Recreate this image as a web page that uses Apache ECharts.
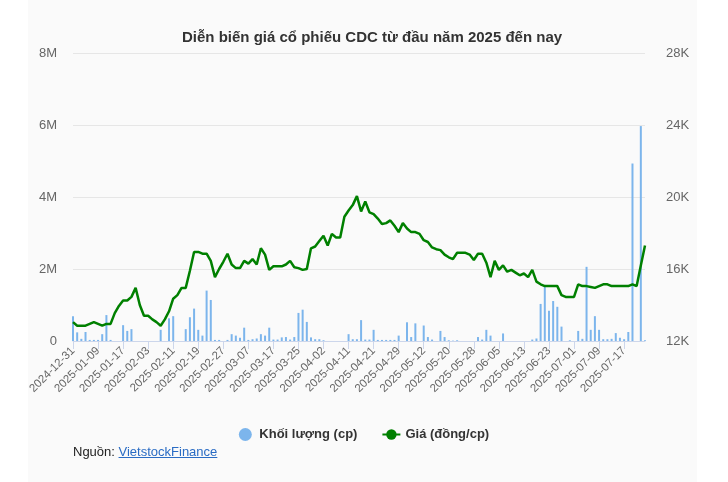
<!DOCTYPE html>
<html>
<head>
<meta charset="utf-8">
<script src="https://cdn.jsdelivr.net/npm/echarts@6/dist/echarts.min.js"></script>
<style>
  html, body { margin: 0; padding: 0; background: #ffffff; }
  #panel { position: absolute; left: 28px; top: 0; width: 669px; height: 482px; background: #fafafa; }
  #chart { position: absolute; left: 0; top: 0; width: 728px; height: 482px; }
  #source { position: absolute; left: 73px; top: 444px; font-family: "Liberation Sans", Arial, sans-serif; font-size: 13px; color: #222; }
  #source a { color: #2a6cc4; text-decoration: underline; }
</style>
</head>
<body>
<div id="panel"></div>
<div id="chart"></div>
<div id="source">Nguồn: <a href="#">VietstockFinance</a></div>
<script>
const dates = [
  "2024-12-31",
  "2025-01-02", "2025-01-03", "2025-01-06", "2025-01-07", "2025-01-08", "2025-01-09",
  "2025-01-10", "2025-01-13", "2025-01-14", "2025-01-15", "2025-01-16", "2025-01-17",
  "2025-01-20", "2025-01-21", "2025-01-22", "2025-01-23", "2025-01-24",
  "2025-02-03", "2025-02-04", "2025-02-05", "2025-02-06", "2025-02-07", "2025-02-10", "2025-02-11",
  "2025-02-12", "2025-02-13", "2025-02-14", "2025-02-17", "2025-02-18", "2025-02-19",
  "2025-02-20", "2025-02-21", "2025-02-24", "2025-02-25", "2025-02-26", "2025-02-27",
  "2025-02-28", "2025-03-03", "2025-03-04", "2025-03-05", "2025-03-06", "2025-03-07",
  "2025-03-10", "2025-03-11", "2025-03-12", "2025-03-13", "2025-03-14", "2025-03-17",
  "2025-03-18", "2025-03-19", "2025-03-20", "2025-03-21", "2025-03-24", "2025-03-25",
  "2025-03-26", "2025-03-27", "2025-03-28", "2025-03-31", "2025-04-01", "2025-04-02",
  "2025-04-03", "2025-04-04", "2025-04-08", "2025-04-09", "2025-04-10", "2025-04-11",
  "2025-04-14", "2025-04-15", "2025-04-16", "2025-04-17", "2025-04-18", "2025-04-21",
  "2025-04-22", "2025-04-23", "2025-04-24", "2025-04-25", "2025-04-28", "2025-04-29",
  "2025-05-05", "2025-05-06", "2025-05-07", "2025-05-08", "2025-05-09", "2025-05-12",
  "2025-05-13", "2025-05-14", "2025-05-15", "2025-05-16", "2025-05-19", "2025-05-20",
  "2025-05-21", "2025-05-22", "2025-05-23", "2025-05-26", "2025-05-27", "2025-05-28",
  "2025-05-29", "2025-05-30", "2025-06-02", "2025-06-03", "2025-06-04", "2025-06-05",
  "2025-06-06", "2025-06-09", "2025-06-10", "2025-06-11", "2025-06-12", "2025-06-13",
  "2025-06-16", "2025-06-17", "2025-06-18", "2025-06-19", "2025-06-20", "2025-06-23",
  "2025-06-24", "2025-06-25", "2025-06-26", "2025-06-27", "2025-06-30", "2025-07-01",
  "2025-07-02", "2025-07-03", "2025-07-04", "2025-07-07", "2025-07-08", "2025-07-09",
  "2025-07-10", "2025-07-11", "2025-07-14", "2025-07-15", "2025-07-16", "2025-07-17",
  "2025-07-18", "2025-07-21", "2025-07-22", "2025-07-23", "2025-07-24",
];

// gia dong cua (dong/cp)
const prices = [
  13050,
  12850, 12850, 12850, 12950, 13050, 12950,
  12850, 12950, 12950, 13550, 13950, 14250,
  14250, 14450, 14950, 14000, 13400,
  13400, 13200, 13050, 12850, 13200, 13650, 14350,
  14550, 14950, 14950, 15900, 16950, 16950,
  16850, 16850, 16450, 15550, 16000, 16400,
  16850, 16250, 16050, 16050, 16450, 16300,
  16550, 16250, 17150, 16800, 15950, 16150,
  16150, 16150, 16250, 16450, 16100, 16050,
  15950, 16000, 17150, 17250, 17550, 17850,
  17300, 17950, 17750, 17750, 18900, 19250,
  19550, 20050, 19200, 19750, 19150, 19050,
  18800, 18500, 18550, 18700, 18400, 18050,
  18550, 18250, 18050, 18050, 17950, 17600,
  17500, 17200, 17100, 17050, 16800, 16650,
  16550, 16900, 16900, 16900, 16800, 16500,
  16850, 16850, 16350, 15550, 16450, 15950,
  16200, 15850, 15950, 15800, 15650, 15750,
  15550, 15950, 15300, 15150, 15050, 15050,
  15050, 15050, 14550, 14450, 14450, 14450,
  15150, 15050, 15050, 15000, 14950, 15050,
  15150, 15150, 15050, 15050, 15050, 15050,
  15050, 15150, 15050, 16200, 17300,
];

// khoi luong (cp)
const volumes = [
  690000,
  240000, 60000, 250000, 30000, 30000, 30000,
  190000, 720000, 30000, 0, 0, 440000,
  280000, 330000, 0, 0, 0,
  0, 0, 0, 310000, 0, 630000, 690000,
  0, 0, 330000, 660000, 900000, 310000,
  150000, 1400000, 1140000, 30000, 30000, 0,
  30000, 190000, 150000, 90000, 370000, 30000,
  50000, 70000, 190000, 150000, 370000, 40000,
  40000, 100000, 110000, 40000, 110000, 780000,
  870000, 530000, 100000, 50000, 50000, 20000,
  0, 0, 0, 0, 0, 190000,
  50000, 50000, 580000, 40000, 40000, 310000,
  30000, 30000, 30000, 30000, 30000, 150000,
  0, 520000, 110000, 490000, 0, 430000,
  110000, 40000, 0, 280000, 110000, 20000,
  10000, 20000, 0, 0, 0, 0,
  110000, 40000, 310000, 150000, 0, 0,
  210000, 0, 0, 0, 0, 0,
  0, 40000, 70000, 1030000, 1500000, 840000,
  1110000, 950000, 400000, 0, 20000, 0,
  280000, 60000, 2060000, 310000, 690000, 310000,
  50000, 50000, 60000, 220000, 90000, 50000,
  250000, 4930000, 0, 5970000, 20000,
];

const volTicks = { min: 0, max: 8000000, step: 2000000 };
const priceTicks = { min: 12000, max: 28000, step: 4000 };

const font = '"Liberation Sans", Arial, sans-serif';

let chart = echarts.init(document.getElementById("chart"), null, { renderer: "canvas" });

let options = {
  backgroundColor: "transparent",
  animation: false,
  textStyle: { fontFamily: font },
  title: {
    text: "Diễn biến giá cổ phiếu CDC từ đầu năm 2025 đến nay",
    left: 177,
    top: 25,
    textStyle: {
      fontFamily: font,
      fontSize: 15,
      fontWeight: "bold",
      color: "#333333",
    },
  },
  legend: {
    top: 423,
    left: "center",
    itemWidth: 18,
    itemHeight: 13,
    itemGap: 24,
    textStyle: {
      fontFamily: font,
      fontSize: 13,
      fontWeight: "bold",
      color: "#333333",
    },
    data: [
      { name: "Khối lượng (cp)", icon: "circle" },
      { name: "Giá (đồng/cp)" },
    ],
  },
  grid: {
    left: 73,
    right: 83,
    top: 53,
    bottom: 141,
  },
  xAxis: {
    type: "category",
    boundaryGap: false,
    data: dates,
    axisLine: { lineStyle: { color: "#ccd6eb" } },
    axisTick: {
      interval: 5,
      length: 8,
      lineStyle: { color: "#ccd6eb" },
    },
    axisLabel: {
      interval: 5,
      rotate: 45,
      fontSize: 11.5,
      color: "#666666",
      margin: 8,
    },
  },
  yAxis: [
    {
      type: "value",
      min: volTicks.min,
      max: volTicks.max,
      interval: volTicks.step,
      axisLine: { show: false },
      axisTick: { show: false },
      axisLabel: {
        fontSize: 13,
        color: "#666666",
        margin: 16,
        formatter: (v) => (v === 0 ? "0" : v / 1000000 + "M"),
      },
      splitLine: { lineStyle: { color: "#e6e6e6" } },
    },
    {
      type: "value",
      min: priceTicks.min,
      max: priceTicks.max,
      interval: priceTicks.step,
      axisLine: { show: false },
      axisTick: { show: false },
      axisLabel: {
        fontSize: 13,
        color: "#666666",
        margin: 21,
        formatter: (v) => v / 1000 + "K",
      },
      splitLine: { show: false },
    },
  ],
  series: [
    {
      name: "Khối lượng (cp)",
      type: "bar",
      yAxisIndex: 0,
      barWidth: 2,
      itemStyle: { color: "#7cb5ec" },
      data: volumes,
    },
    {
      name: "Giá (đồng/cp)",
      type: "line",
      yAxisIndex: 1,
      symbol: "circle",
      symbolSize: 7,
      showSymbol: false,
      itemStyle: { color: "#008000" },
      lineStyle: { color: "#008000", width: 2.5 },
      data: prices,
    },
  ],
};

chart.setOption(options);
</script>
</body>
</html>
